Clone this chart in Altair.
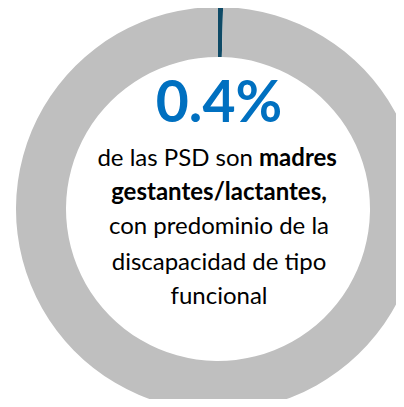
import altair as alt
import pandas as pd

categories = ["Madres gestantes/lactantes", "Otras PSD"]
values = [0.4, 99.6]
colors = ["#0E4A66", "#BFBFBF"]

headline = "0.4%"
line1_normal = "de las PSD son"
line1_bold = "madres"
line2_bold = "gestantes/lactantes,"
line3 = "con predominio de la"
line4 = "discapacidad de tipo"
line5 = "funcional"

df = pd.DataFrame({"cat": categories, "val": values, "ord": [0, 1]})

FONT = "Lato"

arc = alt.Chart(df).mark_arc(outerRadius=202, innerRadius=152, stroke=None).encode(
    theta=alt.Theta("val:Q", stack=True),
    order=alt.Order("ord:Q"),
    color=alt.Color("cat:N", scale=alt.Scale(domain=categories, range=colors), legend=None),
    x=alt.value(210),
    y=alt.value(201),
)

one = pd.DataFrame({"a": [0]})

def txt(s, x, y, size, weight="normal", color="#000000", align="center"):
    return alt.Chart(one).mark_text(
        text=s, font=FONT, fontSize=size, fontWeight=weight, color=color,
        align=align, baseline="alphabetic"
    ).encode(x=alt.value(x), y=alt.value(y))

layers = [
    arc,
    txt(headline, 211, 114, 57, "bold", "#0070C0"),
    txt(line1_normal, 245, 158, 24, "normal", align="right"),
    txt(line1_bold, 251, 158, 24, "bold", align="left"),
    txt(line2_bold, 211, 192, 24, "bold"),
    txt(line3, 211, 226, 24),
    txt(line4, 211, 262, 24),
    txt(line5, 211, 296, 24),
]

chart = alt.layer(*layers).properties(
    width=388, height=391, padding=0, autosize="none"
).configure_view(stroke=None)

chart.save("out.html", embed_options={"renderer": "svg", "actions": False})
